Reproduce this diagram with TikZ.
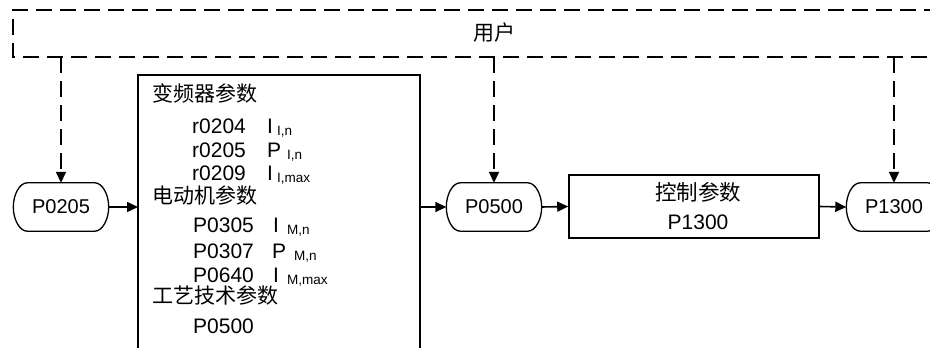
\documentclass[tikz,border=0pt]{standalone}
\usepackage{fontspec}
\setmainfont{Liberation Sans}
\newfontfamily\cjk{Noto Sans CJK SC}
\usetikzlibrary{arrows.meta,calc}
\tikzset{
 box/.style={line width=1.6pt},
 dashline/.style={line width=1.6pt, dash pattern=on 16pt off 8pt},
 arr/.style={line width=1.6pt,-{Triangle[length=11pt,width=10pt]}},
 darr/.style={arr, dash pattern=on 16pt off 8pt},
 bubblenode/.style={minimum width=95pt, minimum height=48pt, inner sep=0pt, font=\fontsize{20}{22}\selectfont},
 bubbleline/.style={line width=1.3pt},
 cn/.style={font=\cjk\fontsize{21}{23}\selectfont, inner sep=0pt, anchor=base west},
 partext/.style={font=\fontsize{21}{23}\selectfont, inner sep=0pt, anchor=base west},
 subtext/.style={font=\fontsize{13.5}{15}\selectfont, inner sep=0pt, anchor=base west},
}
\newcommand\bubbleoutline[1]{%
 \draw[bubbleline] ([xshift=14pt]#1.north west) -- ([xshift=-14pt]#1.north east)
 .. controls ([xshift=-6pt]#1.north east) and ([yshift=12pt]#1.east) .. (#1.east)
 .. controls ([yshift=-12pt]#1.east) and ([xshift=-6pt]#1.south east) .. ([xshift=-14pt]#1.south east)
 -- ([xshift=14pt]#1.south west)
 .. controls ([xshift=6pt]#1.south west) and ([yshift=-12pt]#1.west) .. (#1.west)
 .. controls ([yshift=12pt]#1.west) and ([xshift=6pt]#1.north west) .. cycle;}
\begin{document}
\begin{tikzpicture}[x=1pt,y=-1pt]
\clip (0,0) rectangle (930,348);
% user frame
\draw[dashline] (940,10) -- (13,10) -- (13,57) -- (940,57);
\node[font=\cjk\fontsize{21}{23}\selectfont, inner sep=0pt] (user) at (494,33) {用户};
% bubbles
\node[bubblenode] (p0205) at (61,207) {P0205};
\node[bubblenode] (p0500) at (494,207) {P0500};
\node[bubblenode] (p1300) at (894,207) {P1300};
\bubbleoutline{p0205}
\bubbleoutline{p0500}
\bubbleoutline{p1300}
% dashed verticals
\coordinate (u1) at (61,57);
\coordinate (u2) at (494,57);
\coordinate (u3) at (894,57);
\draw[darr] (u1) -- (p0205.north);
\draw[darr] (u2) -- (p0500.north);
\draw[darr] (u3) -- (p1300.north);
% left parameter box
\coordinate (bl) at (138,355);
\coordinate (tl) at (138,75);
\coordinate (tr) at (420,75);
\coordinate (br) at (420,355);
\draw[box] (bl) -- (tl) -- (tr) -- (br);
\coordinate (boxin) at (138,207);
\coordinate (boxout) at (420,207);
\node[cn] (h1) at (152,101) {变频器参数};
\node[partext] (r4) at (192,133) {r0204};
\node[partext] (r4s) at (267,133) {I};
\node[subtext] (r4t) at (277,135) {I,n};
\node[partext] (r5) at (192,157) {r0205};
\node[partext] (r5s) at (267,157) {P};
\node[subtext] (r5t) at (287,159) {I,n};
\node[partext] (r9) at (192,180) {r0209};
\node[partext] (r9s) at (267,180) {I};
\node[subtext] (r9t) at (277,182) {I,max};
\node[cn] (h2) at (152,203) {电动机参数};
\node[partext] (m5) at (193,232) {P0305};
\node[partext] (m5s) at (273,232) {I};
\node[subtext] (m5t) at (287,234) {M,n};
\node[partext] (m7) at (193,258) {P0307};
\node[partext] (m7s) at (272,258) {P};
\node[subtext] (m7t) at (294,260) {M,n};
\node[partext] (m0) at (193,282) {P0640};
\node[partext] (m0s) at (273,282) {I};
\node[subtext] (m0t) at (287,284) {M,max};
\node[cn] (h3) at (152,303) {工艺技术参数};
\node[partext] (t5) at (193,333) {P0500};
% control box
\node[draw, box, minimum width=250pt, minimum height=63pt, inner sep=0pt] (ctrl) at (694,206.5) {};
\node[font=\cjk\fontsize{21.5}{23}\selectfont, inner sep=0pt] (ctrlt) at (698,192) {控制参数};
\node[font=\fontsize{21}{23}\selectfont, inner sep=0pt] (ctrlp) at (698,222.5) {P1300};
% arrows
\draw[arr] (p0205.east) -- (boxin);
\draw[arr] (boxout) -- (p0500.west);
\draw[arr] (p0500.east) -- (ctrl.west);
\draw[arr] (ctrl.east) -- (p1300.west);
\end{tikzpicture}
\end{document}
